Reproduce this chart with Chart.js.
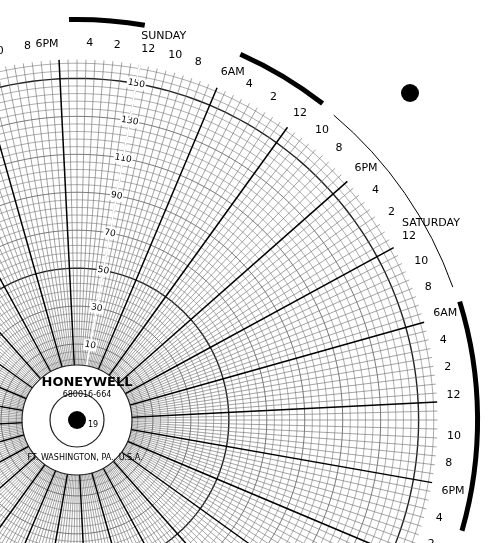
<!DOCTYPE html>
<html><head><meta charset="utf-8">
<script src="https://cdn.jsdelivr.net/npm/chart.js@4"></script>
<style>html,body{margin:0;padding:0;background:#fff;overflow:hidden;width:492px;height:543px}
#w{position:absolute;left:-359px;top:-3px;width:840px;height:840px}</style></head>
<body><div id="w"><canvas id="c" width="840" height="840"></canvas></div>
<script>
// clockwise hour labels starting at Sunday noon
const hourLabels = ["12","10","8","6AM","4","2","12","10","8","6PM","4","2"];
const dayNames = ["SUNDAY","SATURDAY","FRIDAY","THURSDAY","WEDNESDAY","TUESDAY","MONDAY"];
const ringTicks = [0,10,20,30,40,50,60,70,80,90,100];
const SUB = 3;
const labels = [];
for (let d = 0; d < 7; d++) for (let h = 0; h < 12; h++) for (let s = 0; s < SUB; s++) {
  if (s) { labels.push(""); continue; }
  labels.push(h === 0 ? [dayNames[d], hourLabels[h]] : hourLabels[h]);
}
const traceValues = labels.map(() => null);
const deco = {
  id: 'deco',
  afterDraw(chart) {
    const r = chart.scales.r, ctx = chart.ctx, cx = r.xCenter, cy = r.yCenter, R = r.drawingArea;
    ctx.save();
    ctx.lineWidth = 5; ctx.strokeStyle = '#000';
    ctx.beginPath(); ctx.arc(cx, cy, R + 40, -Math.PI/2 - 0.02, -Math.PI/2 + 0.17); ctx.stroke();
    ctx.beginPath(); ctx.arc(cx, cy, R + 40, -Math.PI/2 + 0.42, -Math.PI/2 + 0.66); ctx.stroke();
    ctx.beginPath(); ctx.arc(cx, cy, R + 40, -0.3, 0.28); ctx.stroke();
    ctx.lineWidth = 1;
    ctx.beginPath(); ctx.arc(cx, cy, R + 38, -Math.PI/2 + 0.7, -0.34); ctx.stroke();
    ctx.fillStyle = '#000';
    ctx.beginPath(); ctx.arc(cx + 333, cy - 327, 9, 0, 2*Math.PI); ctx.fill();
    ctx.fillStyle = '#fff';
    ctx.beginPath(); ctx.arc(cx, cy, 55, 0, 2*Math.PI); ctx.fill();
    ctx.strokeStyle = '#222'; ctx.lineWidth = 1.2;
    ctx.beginPath(); ctx.arc(cx, cy, 55, 0, 2*Math.PI); ctx.stroke();
    ctx.beginPath(); ctx.arc(cx, cy, 27, 0, 2*Math.PI); ctx.stroke();
    ctx.fillStyle = '#000';
    ctx.beginPath(); ctx.arc(cx, cy, 9, 0, 2*Math.PI); ctx.fill();
    ctx.font = 'bold 13px "DejaVu Sans"'; ctx.textAlign = 'center'; ctx.textBaseline = 'middle';
    ctx.fillText('HONEYWELL', cx + 10, cy - 37);
    ctx.font = '8px "DejaVu Sans"';
    ctx.fillText('680016-664', cx + 10, cy - 25);
    ctx.fillText('FT. WASHINGTON, PA., U.S.A.', cx + 8, cy + 38);
    ctx.fillText('19', cx + 16, cy + 5);
    ctx.restore();
  }
};
new Chart(document.getElementById('c'), {
  type: 'radar',
  data: { labels, datasets: [{ data: traceValues, borderColor: '#000', pointRadius: 0 }] },
  options: {
    responsive: false, animation: false,
    layout: { padding: 0 },
    plugins: { legend: { display: false }, tooltip: { enabled: false } },
    scales: { r: {
      min: -30, max: 160, startAngle: 10,
      grid: { color: c => (c.tick.value % 10 === 0 ? '#222' : '#777'), lineWidth: c => (c.tick.value % 50 === 0 ? 1.4 : 0.6) },
      angleLines: { color: c => (c.index % (SUB*3) === 0 ? '#000' : '#666'), lineWidth: c => (c.index % (SUB*3) === 0 ? 1.5 : 0.6) },
      ticks: { stepSize: 2, display: true, color: '#000', font: { size: 9, family: 'DejaVu Sans' },
        callback: v => (v >= 0 && v % 10 === 0 ? String(v) : ''), backdropColor: '#fff', backdropPadding: 1 },
      pointLabels: { color: '#000', font: { size: 11, family: 'DejaVu Sans' }, padding: 4 }
    } }
  },
  plugins: [deco]
});
</script></body></html>
